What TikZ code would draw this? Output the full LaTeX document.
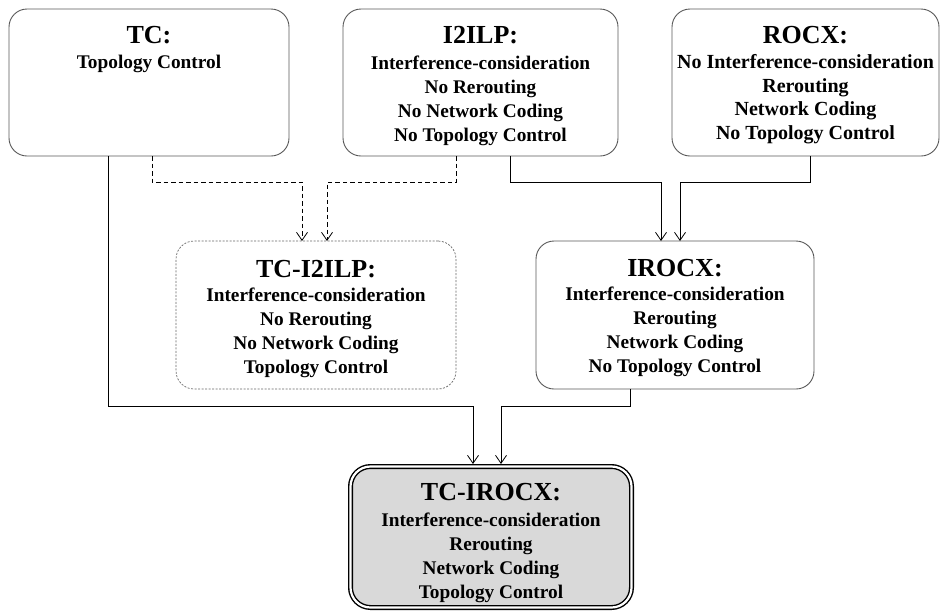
\documentclass[tikz,border=0pt]{standalone}
\usepackage{fontspec}
\setmainfont{Liberation Serif}
\usetikzlibrary{arrows.meta}
\tikzset{
  stepbox/.style={draw=black!65, line width=0.9pt, rounded corners=18pt, inner sep=0pt, outer sep=0pt, fill=white},
  dotbox/.style={stepbox, draw=black!60, line width=0.7pt, dash pattern=on 2pt off 1.5pt},
  finalbox/.style={stepbox, draw=black, fill=black!15, line width=1.4pt, double=white, double distance=2.2pt, outer sep=2.5pt, rounded corners=20pt},
  titletext/.style={font=\fontsize{26}{30}\selectfont\bfseries, inner sep=0pt, anchor=base},
  bodytext/.style={font=\fontsize{19.3}{24}\selectfont\bfseries, inner sep=0pt, anchor=base},
  conn/.style={draw=black, line width=0.8pt, -{Straight Barb[length=8pt,width=11pt]}},
  dconn/.style={conn, dash pattern=on 4.5pt off 3pt},
}
\newcommand\mylines[1]{\parbox[t]{300pt}{\centering #1}}
\begin{document}
\begin{tikzpicture}[x=1pt,y=-1pt]
\useasboundingbox (0,0) rectangle (941,611);
% boxes
\node[stepbox, minimum width=280pt, minimum height=147pt] (tc) at (149,82.5) {};
\node[stepbox, minimum width=275pt, minimum height=147pt] (i2) at (480.5,82.5) {};
\node[stepbox, minimum width=267pt, minimum height=147pt] (ro) at (805.5,82.5) {};
\node[dotbox, minimum width=280pt, minimum height=148pt] (tci) at (316,315) {};
\node[stepbox, minimum width=278pt, minimum height=148pt] (iro) at (675,315) {};
\node[finalbox, minimum width=281pt, minimum height=141pt] (tcx) at (491,537) {};
% texts
\node[titletext] (tct) at (149,43) {TC:};
\node[bodytext] (tcb) at (149,68.5) {\mylines{Topology Control}};
\node[titletext] (i2t) at (480.5,43) {I2ILP:};
\node[bodytext] (i2b) at (480.5,69) {\mylines{Interference-consideration\\No Rerouting\\No Network Coding\\No Topology Control}};
\node[titletext] (rot) at (805.5,43) {ROCX:};
\node[bodytext, font=\fontsize{20}{23.5}\selectfont\bfseries] (rob) at (805.5,68.5) {\mylines{No Interference-consideration\\Rerouting\\Network Coding\\No Topology Control}};
\node[titletext] (tcit) at (316,277) {TC-I2ILP:};
\node[bodytext] (tcib) at (316,301.5) {\mylines{Interference-consideration\\No Rerouting\\No Network Coding\\Topology Control}};
\node[titletext] (irot) at (675,276.5) {IROCX:};
\node[bodytext] (irob) at (675,300.5) {\mylines{Interference-consideration\\Rerouting\\Network Coding\\No Topology Control}};
\node[titletext] (tcxt) at (491,500) {TC-IROCX:};
\node[bodytext] (tcxb) at (491,526) {\mylines{Interference-consideration\\Rerouting\\Network Coding\\Topology Control}};
% guide coordinates
\coordinate (xa) at (108,0);
\coordinate (xb) at (152,0);
\coordinate (xc) at (302,0);
\coordinate (xd) at (327,0);
\coordinate (xe) at (456,0);
\coordinate (xf) at (510,0);
\coordinate (xg) at (661,0);
\coordinate (xh) at (680,0);
\coordinate (xi) at (810,0);
\coordinate (xj) at (630,0);
\coordinate (xk) at (473,0);
\coordinate (xl) at (501,0);
\coordinate (ya) at (0,182);
\coordinate (yb) at (0,406);
% connectors
\draw[dconn] (tc.south -| xb) |- (xc |- ya) -- (xc |- tci.north);
\draw[dconn] (i2.south -| xe) |- (xd |- ya) -- (xd |- tci.north);
\draw[conn] (i2.south -| xf) |- (xg |- ya) -- (xg |- iro.north);
\draw[conn] (ro.south -| xi) |- (xh |- ya) -- (xh |- iro.north);
\draw[conn] (tc.south -| xa) |- (xk |- yb) -- (xk |- tcx.north);
\draw[conn] (iro.south -| xj) |- (xl |- yb) -- (xl |- tcx.north);
\end{tikzpicture}
\end{document}
